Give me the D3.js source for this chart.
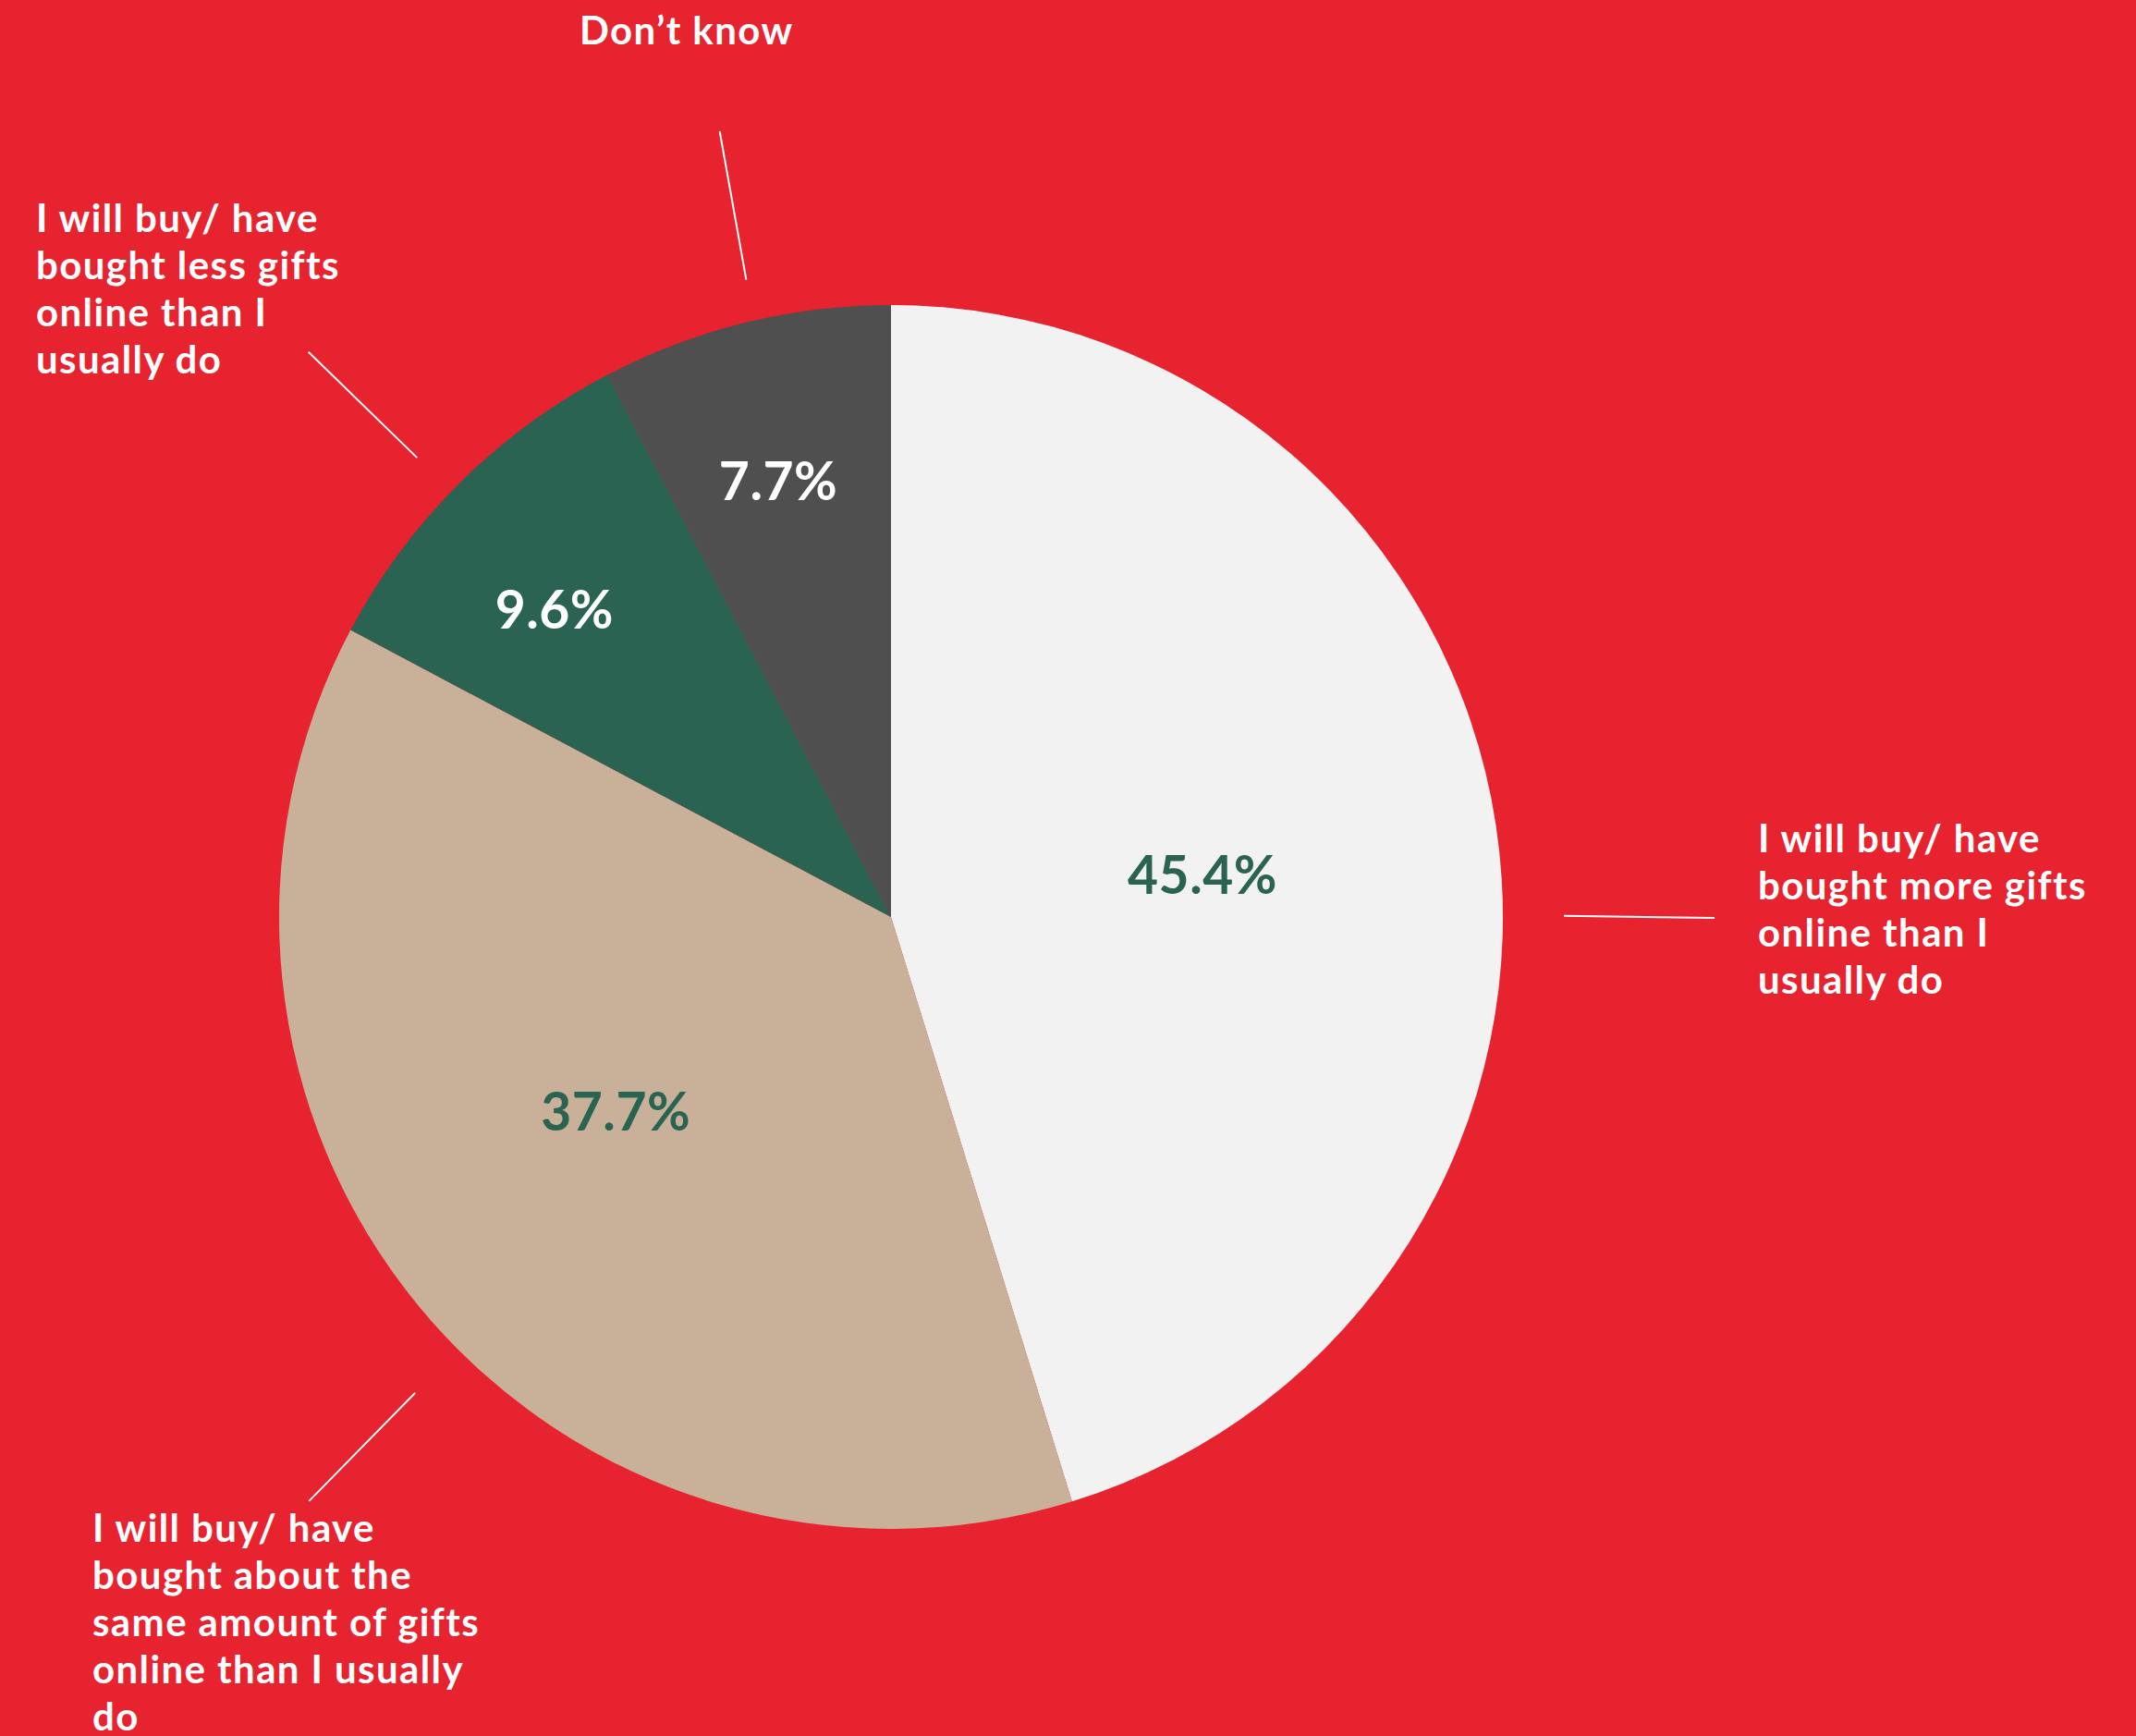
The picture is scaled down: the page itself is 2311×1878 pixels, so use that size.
<!DOCTYPE html>
<html>
<head>
<meta charset="utf-8">
<script src="https://cdn.jsdelivr.net/npm/d3@7"></script>
<style>
  html, body { margin: 0; padding: 0; background: #E7232F; }
  svg { display: block; }
  text { font-family: Lato, "Noto Sans", sans-serif; font-weight: 700; }
</style>
</head>
<body>
<script>
// Survey answers: online gift buying compared with a usual year
const categories = [
  "I will buy/ have bought more gifts online than I usually do",
  "I will buy/ have bought about the same amount of gifts online than I usually do",
  "I will buy/ have bought less gifts online than I usually do",
  "Don’t know"
];
const shares = [45.4, 37.7, 9.6, 7.7];
const labelLines = [
  ["I will buy/ have", "bought more gifts", "online than I", "usually do"],
  ["I will buy/ have", "bought about the", "same amount of gifts", "online than I usually", "do"],
  ["I will buy/ have", "bought less gifts", "online than I", "usually do"],
  ["Don’t know"]
];
const sliceColors = ["#F2F2F2", "#C9B199", "#2A6352", "#4F4F4F"];
const valueColors = ["#2A6352", "#2A6352", "#FFFFFF", "#FFFFFF"];

const W = 2311, H = 1878;
const cx = 964, cy = 992, R = 662;

// Placement of the in-slice values (radius, angle tweak in degrees)
const valuePlace = [
  { r: 340, dAng: 1.0 },
  { r: 365, dAng: 4.3 },
  { r: 493, dAng: -2.8 },
  { r: 487, dAng: -0.7 }
];
// Leader lines (polar: degrees clockwise from top, inner/outer radius)
const leaders = [
  { a0: 89.9, r0: 728, a1: 90.07, r1: 891 },
  { a0: 225.0, r0: 728, a1: 224.9, r1: 892 },
  { a0: 314.1, r0: 714, a1: 314.12, r1: 878 },
  { a0: 347.2, r0: 707, a1: 347.7, r1: 870 }
];
// Outer category text blocks (left edge, first baseline)
const textPlace = [
  { x: 1902, y: 922 },
  { x: 100, y: 1668 },
  { x: 39, y: 251 },
  { x: 627, y: 48 }
];
const lineStep = 51;

const svg = d3.select("body").append("svg")
  .attr("width", W).attr("height", H);

svg.append("rect").attr("width", W).attr("height", H).attr("fill", "#E7232F");

const data = categories.map((c, i) => ({ name: c, value: shares[i], i }));

const pie = d3.pie().value(d => d.value).sort(null);
const arcs = pie(data);
const arc = d3.arc().innerRadius(0).outerRadius(R);

const g = svg.append("g").attr("transform", `translate(${cx},${cy})`);

g.selectAll("path.slice")
  .data(arcs)
  .join("path")
  .attr("class", "slice")
  .attr("d", arc)
  .attr("fill", d => sliceColors[d.data.i]);

const rad = Math.PI / 180;

// Percent values inside slices
g.selectAll("text.value")
  .data(arcs)
  .join("text")
  .attr("class", "value")
  .attr("text-anchor", "middle")
  .attr("font-size", 57)
  .attr("letter-spacing", 0.5)
  .attr("fill", d => valueColors[d.data.i])
  .attr("transform", d => {
    const p = valuePlace[d.data.i];
    const mid = (d.startAngle + d.endAngle) / 2 + p.dAng * rad;
    const [x, y] = d3.pointRadial(mid, p.r);
    return `translate(${x},${y + 20})`;
  })
  .text(d => d3.format(".1f")(d.value) + "%");

// Leader lines from slices toward their category text
g.selectAll("line.leader")
  .data(arcs)
  .join("line")
  .attr("class", "leader")
  .each(function(d) {
    const L = leaders[d.data.i];
    const [x0, y0] = d3.pointRadial(L.a0 * rad, L.r0);
    const [x1, y1] = d3.pointRadial(L.a1 * rad, L.r1);
    d3.select(this).attr("x1", x0).attr("y1", y0).attr("x2", x1).attr("y2", y1);
  })
  .attr("stroke", "#FFFFFF")
  .attr("stroke-width", 2);

// Category texts
svg.selectAll("text.cat")
  .data(arcs)
  .join("text")
  .attr("class", "cat")
  .attr("fill", "#FFFFFF")
  .attr("font-size", 42)
  .attr("letter-spacing", 1.4)
  .each(function(d) {
    const p = textPlace[d.data.i];
    d3.select(this).selectAll("tspan")
      .data(labelLines[d.data.i])
      .join("tspan")
      .attr("x", p.x)
      .attr("y", (t, k) => p.y + k * lineStep)
      .text(t => t);
  });
</script>
</body>
</html>
